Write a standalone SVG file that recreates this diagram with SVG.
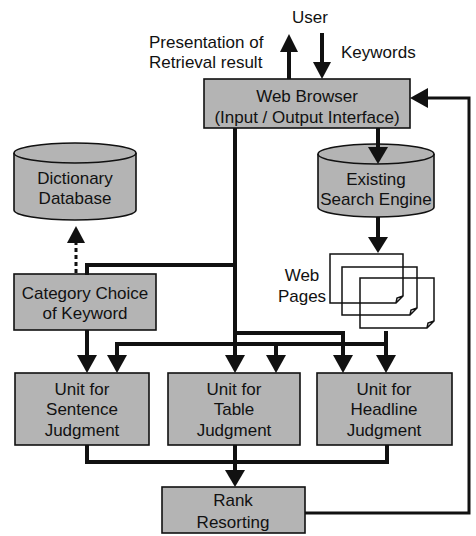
<svg xmlns="http://www.w3.org/2000/svg" width="476" height="536" viewBox="0 0 476 536">
<style>
.box{fill:#b4b4b4;stroke:#111;stroke-width:1.6}
.t{font-family:"Liberation Sans",Arial,sans-serif;font-size:17px;fill:#111;text-anchor:middle}
.ts{font-family:"Liberation Sans",Arial,sans-serif;font-size:17px;fill:#111}
.ln{fill:none;stroke:#111;stroke-width:4;stroke-linejoin:miter}
.thin{fill:none;stroke:#111;stroke-width:3}
.hd{fill:#111}
.pg{fill:none;stroke:#111;stroke-width:1.5}
</style>
<rect width="476" height="536" fill="#fff"/>

<g id="user-labels">
<text class="t" x="310" y="23">User</text>
<text class="ts" x="149" y="48">Presentation of</text>
<text class="ts" x="149" y="68">Retrieval result</text>
<text class="ts" x="341" y="58">Keywords</text>
</g>

<g id="web-browser">
<rect class="box" x="204" y="79" width="206" height="49"/>
<text class="t" x="307" y="102">Web Browser</text>
<text class="t" x="307" y="123">(Input / Output Interface)</text>
</g>

<g id="dictionary-database">
<path class="box" d="M14,153 L14,210 A61,10 0 0 0 136,210 L136,153 A61,10 0 0 0 14,153 Z"/>
<path class="pg" d="M14,153 A61,10 0 0 0 136,153"/>
<text class="t" x="75" y="184">Dictionary</text>
<text class="t" x="75" y="204">Database</text>
</g>

<g id="search-engine">
<path class="box" d="M318,154 L318,207 A58,10 0 0 0 434,207 L434,154 A58,10 0 0 0 318,154 Z"/>
<path class="pg" d="M318,154 A58,10 0 0 0 434,154"/>
<text class="t" x="376" y="185">Existing</text>
<text class="t" x="376" y="205">Search Engine</text>
</g>

<g id="web-pages">
<path class="pg" d="M330,254 H403 V296 L396,303 H330 Z M396,303 L397,298 L403,296"/>
<path class="pg" d="M342,267 H417 V308 L410,315 H342 Z M410,315 L411,310 L417,308"/>
<path class="pg" d="M360,278 H434 V321 L427,328 H360 Z M427,328 L428,323 L434,321"/>
<text class="t" x="302" y="281">Web</text>
<text class="t" x="302" y="302">Pages</text>
</g>

<g id="category-choice">
<rect class="box" x="14" y="274" width="142" height="56"/>
<text class="t" x="85" y="299">Category Choice</text>
<text class="t" x="85" y="319">of Keyword</text>
</g>

<g id="unit-sentence">
<rect class="box" x="15" y="373" width="134" height="72"/>
<text class="t" x="82" y="395">Unit for</text>
<text class="t" x="82" y="415">Sentence</text>
<text class="t" x="82" y="436">Judgment</text>
</g>

<g id="unit-table">
<rect class="box" x="168" y="373" width="132" height="72"/>
<text class="t" x="234" y="395">Unit for</text>
<text class="t" x="234" y="415">Table</text>
<text class="t" x="234" y="436">Judgment</text>
</g>

<g id="unit-headline">
<rect class="box" x="317" y="373" width="135" height="72"/>
<text class="t" x="384" y="395">Unit for</text>
<text class="t" x="384" y="415">Headline</text>
<text class="t" x="384" y="436">Judgment</text>
</g>

<g id="rank-resorting">
<rect class="box" x="162" y="487" width="143" height="46"/>
<text class="t" x="233" y="506">Rank</text>
<text class="t" x="233" y="528">Resorting</text>
</g>

<g id="connectors">
<path class="ln" d="M289,79 V51"/>
<polygon class="hd" points="280,52 298,52 289,34"/>
<path class="ln" d="M322,33 V63"/>
<polygon class="hd" points="313,62 331,62 322,79"/>
<path class="ln" d="M378,128 V148"/>
<polygon class="hd" points="368,147 388,147 378,164"/>
<path class="ln" d="M378,217 V238"/>
<polygon class="hd" points="368,237 388,237 378,253"/>
<path class="ln" d="M235,128 V356"/>
<polygon class="hd" points="225,355 245,355 235,373"/>
<path class="ln" d="M235,265 H87 V275"/>
<path class="ln" d="M87,330 V356"/>
<polygon class="hd" points="77,355 97,355 87,373"/>
<path class="thin" d="M76,273 V242" stroke-dasharray="4,3"/>
<polygon class="hd" points="67,243 85,243 76,226"/>
<path class="ln" d="M235,333 H343 V356"/>
<polygon class="hd" points="333,355 353,355 343,373"/>
<path class="ln" d="M386,331 V356"/>
<polygon class="hd" points="376,355 396,355 386,373"/>
<path class="ln" d="M386,344 H117 V356"/>
<polygon class="hd" points="107,355 127,355 117,373"/>
<path class="ln" d="M276,344 V356"/>
<polygon class="hd" points="266,355 286,355 276,373"/>
<path class="ln" d="M87,445 V462 H387 V445"/>
<path class="ln" d="M235,445 V471"/>
<polygon class="hd" points="225,470 245,470 235,487"/>
<path class="thin" d="M305,513 H469 V98 H427"/>
<polygon class="hd" points="428,88 428,108 410,98"/>
</g>
</svg>
